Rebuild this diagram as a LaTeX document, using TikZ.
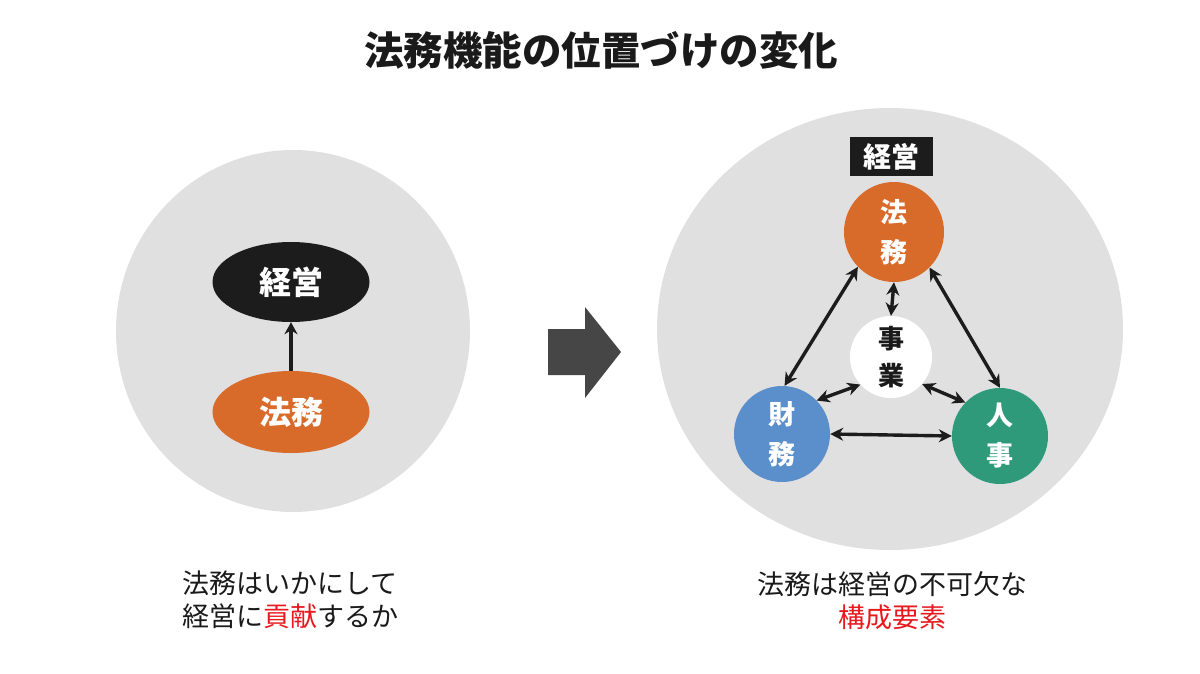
\documentclass[tikz,border=0pt]{standalone}
\usepackage{fontspec}
\usetikzlibrary{shapes.geometric,arrows.meta}
\newfontfamily\jp{Noto Sans CJK JP}
\definecolor{bggray}{HTML}{E0E0E0}
\definecolor{nblack}{HTML}{1C1C1C}
\definecolor{norange}{HTML}{D86B2A}
\definecolor{nblue}{HTML}{5B8FCC}
\definecolor{ngreen}{HTML}{2E9A7A}
\definecolor{bigarrow}{HTML}{464646}
\definecolor{hred}{HTML}{E8191E}
\definecolor{tblack}{HTML}{1A1A1A}
\tikzset{
  ellnode/.style={ellipse, inner sep=0pt, minimum width=157pt, minimum height=80pt,
    text=white, font=\jp\bfseries\fontsize{32}{36}\selectfont},
  rnode/.style={circle, inner sep=0pt, minimum size=#1, align=center,
    text=white, font=\jp\bfseries\fontsize{27}{40}\selectfont},
  link/.style={line width=3.4pt, draw=nblack, {Stealth[length=13pt,width=13pt]}-{Stealth[length=13pt,width=13pt]}},
  caption/.style={align=center, text=tblack, font=\jp\fontsize{27}{33}\selectfont}
}
\begin{document}
\begin{tikzpicture}[x=1pt,y=-1pt]
\useasboundingbox (0,0) rectangle (1200,673);
% title
\node[font=\jp\bfseries\fontsize{39.5}{42}\selectfont, text=tblack] (title) at (601,50) {法務機能の位置づけの変化};
% left circle
\fill[bggray] (293,331) ellipse [x radius=177, y radius=181];
\node[ellnode, fill=nblack] (lk) at (291,282) {経営};
\node[ellnode, fill=norange, minimum height=82pt] (lh) at (291,412) {法務};
\draw[line width=3.6pt, draw=nblack, -{Stealth[length=12pt,width=13pt]}] (lh.north) -- (lk.south);
% big arrow
\fill[bigarrow] (548,329) -- (585,329) -- (585,307) -- (621,352) -- (585,398) -- (585,375) -- (548,375) -- cycle;
% right circle
\fill[bggray] (890,329) ellipse [x radius=233, y radius=221];
\node[fill=nblack, text=white, inner sep=0pt, minimum width=83pt, minimum height=39pt,
  font=\jp\bfseries\fontsize{28}{32}\selectfont] (rk) at (891.5,156.5) {経営};
\node[rnode=100pt, fill=norange] (fa) at (894,232) {法\\務};
\node[rnode=82pt, fill=white, text=tblack, font=\jp\bfseries\fontsize{26}{37}\selectfont] (jg) at (891,357) {事\\業};
\node[rnode=96pt, fill=nblue] (zm) at (782,434) {財\\務};
\node[rnode=96pt, fill=ngreen] (jj) at (1000,436) {人\\事};
\draw[link] (fa.south) -- (jg.north);
\draw[link] (fa.224) -- (zm.87);
\draw[link] (fa.315) -- (jj.90);
\draw[link] (zm.44) -- (jg.222);
\draw[link] (jg.319) -- (jj.136);
\draw[link] (zm.east) -- (jj.west);
% captions
\node[caption] (lc) at (290,600) {法務はいかにして\\経営に\textcolor{hred}{貢献}するか};
\node[caption] (rc) at (892,601) {法務は経営の不可欠な\\\textcolor{hred}{構成要素}};
\end{tikzpicture}
\end{document}
